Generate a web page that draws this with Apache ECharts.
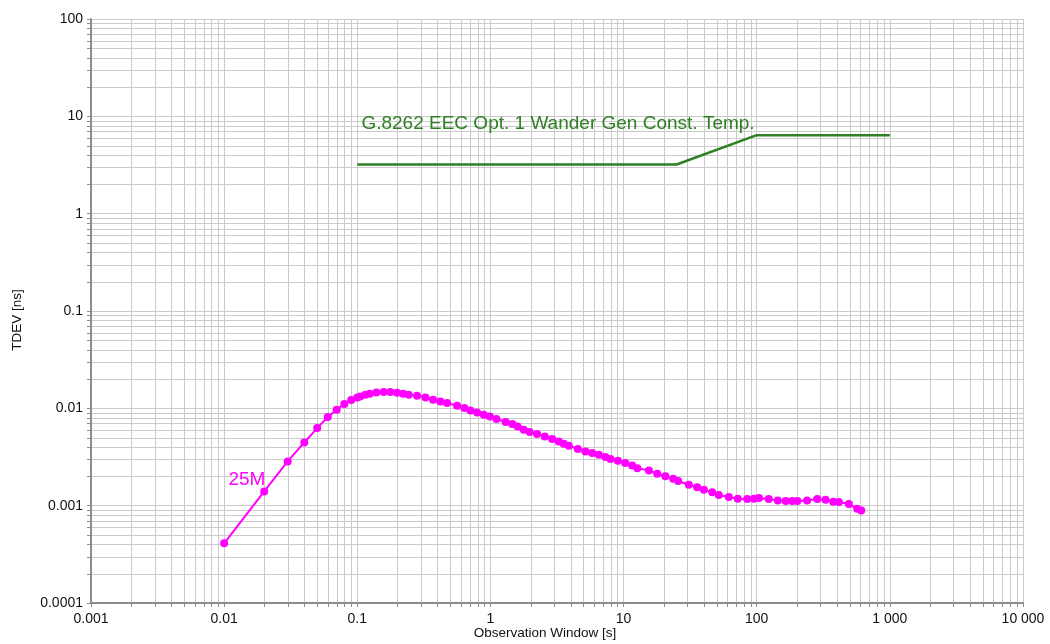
<!DOCTYPE html>
<html>
<head>
<meta charset="utf-8">
<title>TDEV</title>
<script src="https://cdn.jsdelivr.net/npm/echarts@6/dist/echarts.min.js"></script>
<style>
  html, body { margin: 0; padding: 0; background: #fff; }
  #chart { width: 1050px; height: 644px; }
</style>
</head>
<body>
<div id="chart"></div>
<script>
// observation window [s] and measured TDEV [ns] of the 25M trace
const tauValues = [
  0.01, 0.02, 0.03, 0.04, 0.05, 0.06, 0.07, 0.08, 0.09, 0.1,
  0.105, 0.115, 0.124, 0.139, 0.158, 0.177, 0.199, 0.221, 0.243, 0.281,
  0.325, 0.371, 0.421, 0.473, 0.562, 0.638, 0.708, 0.794, 0.891, 0.99,
  1.11, 1.30, 1.46, 1.60, 1.78, 1.97, 2.24, 2.56, 2.91, 3.26,
  3.55, 3.88, 4.53, 5.17, 5.81, 6.52, 7.31, 7.97, 9.06, 10.3,
  11.6, 12.7, 15.5, 17.9, 20.6, 23.6, 25.7, 30.9, 35.7, 40.1,
  46.3, 51.9, 61.7, 72.1, 84.8, 95.1, 104, 123, 144, 165,
  185, 202, 239, 285, 329, 376, 414, 492, 569, 610
]
const tdevValues = [
  0.00041, 0.0014, 0.00285, 0.00446, 0.00627, 0.00813, 0.00968, 0.0111, 0.0122, 0.0129,
  0.01325, 0.0138, 0.0141, 0.01456, 0.01472, 0.01472, 0.01446, 0.0141, 0.0138, 0.01348,
  0.01294, 0.01225, 0.01177, 0.01133, 0.01064, 0.01007, 0.00951, 0.00908, 0.0086, 0.00826,
  0.00776, 0.00723, 0.0069, 0.00652, 0.00603, 0.00571, 0.00544, 0.00514, 0.00483, 0.00457,
  0.00432, 0.00413, 0.00382, 0.00361, 0.00347, 0.00334, 0.00316, 0.00302, 0.00289, 0.00274,
  0.00259, 0.00243, 0.0023, 0.00213, 0.002, 0.00189, 0.00179, 0.00164, 0.00155, 0.00146,
  0.00137, 0.00129, 0.00123, 0.00118, 0.00117, 0.00118, 0.0012, 0.00117, 0.00113, 0.00112,
  0.00112, 0.00112, 0.00113, 0.00117, 0.00115, 0.0011, 0.00109, 0.00104, 0.00093, 0.00089
]

// G.8262 EEC option 1 wander generation mask (constant temperature)
const maskTau = [0.1, 25, 100, 1000]
const maskTdev = [3.2, 3.2, 6.4, 6.4]

const seriesName = '25M'
const maskName = 'G.8262 EEC Opt. 1 Wander Gen Const. Temp.'

const xMin = 0.001
const xMax = 10000
const yMin = 0.0001
const yMax = 100
const xDecades = [0.001, 0.01, 0.1, 1, 10, 100, 1000]
const yDecades = [0.0001, 0.001, 0.01, 0.1, 1, 10]

const gridColor = '#cbcbcb'
const axisColor = '#8c8c8c'
const maskColor = '#2f7f24'
const traceColor = '#ff00ff'
const font = 'Arial, "Liberation Sans", sans-serif'

function fmt(v) {
  const n = parseFloat(Number(v).toPrecision(6))
  if (n >= 1000) return String(n).replace(/\B(?=(\d{3})+(?!\d))/g, ' ')
  return String(n)
}

// minor grid positions at 2..9 of every decade
const minorX = []
const minorY = []
xDecades.forEach(d => {
  for (let k = 2; k <= 9; k++) minorX.push(+(d * k).toPrecision(6))
})
yDecades.forEach(d => {
  for (let k = 2; k <= 9; k++) minorY.push(+(d * k).toPrecision(6))
})

const crisp = v => Math.round(v) + 0.5

// vertical minor grid line + tick under the x axis
function renderMinorX(params, api) {
  const v = api.value(0)
  const top = api.coord([v, yMax])
  const bottom = api.coord([v, yMin])
  const x = crisp(top[0])
  return {
    type: 'group',
    children: [
      { type: 'line', shape: { x1: x, y1: top[1], x2: x, y2: bottom[1] }, style: { stroke: gridColor, lineWidth: 1 } },
      { type: 'line', shape: { x1: x, y1: bottom[1], x2: x, y2: bottom[1] + 4 }, style: { stroke: axisColor, lineWidth: 1 } }
    ]
  }
}

// horizontal minor grid line + tick left of the y axis
function renderMinorY(params, api) {
  const v = api.value(1)
  const left = api.coord([xMin, v])
  const right = api.coord([xMax, v])
  const y = crisp(left[1])
  return {
    type: 'group',
    children: [
      { type: 'line', shape: { x1: left[0], y1: y, x2: right[0], y2: y }, style: { stroke: gridColor, lineWidth: 1 } },
      { type: 'line', shape: { x1: left[0] - 4, y1: y, x2: left[0], y2: y }, style: { stroke: axisColor, lineWidth: 1 } }
    ]
  }
}

const chart = echarts.init(document.getElementById('chart'), null, { renderer: 'canvas' })

const axisCommon = {
  type: 'log',
  logBase: 10,
  interval: 1,
  nameLocation: 'middle',
  nameMoveOverlap: false,
  axisLine: { show: true, lineStyle: { color: axisColor, width: 2 } },
  axisTick: { show: true, length: 4, lineStyle: { color: axisColor, width: 1 } },
  splitLine: { show: true, lineStyle: { color: gridColor, width: 1 } },
  z: 2
}

const textLabel = (text, color) => ({
  show: true,
  formatter: text,
  position: 'inside',
  align: 'left',
  verticalAlign: 'middle',
  color,
  fontSize: 19,
  fontFamily: font
})

const option = {
  animation: false,
  backgroundColor: '#fff',
  grid: { left: 91, right: 27, top: 19, bottom: 41, containLabel: false, outerBoundsMode: 'none' },
  xAxis: Object.assign({}, axisCommon, {
    min: xMin,
    max: xMax,
    name: 'Observation Window [s]',
    nameGap: 23,
    nameTextStyle: { color: '#111', fontSize: 13.5, fontFamily: font, padding: [0, 24, 0, 0] },
    axisLabel: { color: '#111', fontSize: 14, fontFamily: font, formatter: fmt, margin: 9 }
  }),
  yAxis: Object.assign({}, axisCommon, {
    min: yMin,
    max: yMax,
    name: 'TDEV [ns]',
    nameGap: 67,
    nameTextStyle: { color: '#111', fontSize: 13.5, fontFamily: font, padding: [0, 18, 0, 0] },
    axisLabel: { color: '#111', fontSize: 14, fontFamily: font, formatter: fmt, margin: 8 }
  }),
  series: [
    {
      name: 'minorX',
      type: 'custom',
      silent: true,
      clip: false,
      z: 0,
      data: minorX.map(v => [v, 1]),
      encode: { x: 0, y: 1 },
      renderItem: renderMinorX
    },
    {
      name: 'minorY',
      type: 'custom',
      silent: true,
      clip: false,
      z: 0,
      data: minorY.map(v => [1, v]),
      encode: { x: 0, y: 1 },
      renderItem: renderMinorY
    },
    {
      name: maskName,
      type: 'line',
      data: maskTau.map((t, i) => [t, maskTdev[i]]),
      showSymbol: false,
      lineStyle: { color: maskColor, width: 2.5 },
      itemStyle: { color: maskColor },
      z: 3,
      markPoint: {
        symbol: 'circle',
        symbolSize: 1,
        itemStyle: { color: 'transparent' },
        data: [{ coord: [0.1074, 8.3], label: textLabel(maskName, maskColor) }]
      }
    },
    {
      name: seriesName,
      type: 'line',
      data: tauValues.map((t, i) => [t, tdevValues[i]]),
      symbol: 'circle',
      symbolSize: 8,
      showSymbol: true,
      lineStyle: { color: traceColor, width: 2 },
      itemStyle: { color: traceColor },
      z: 4,
      markPoint: {
        symbol: 'circle',
        symbolSize: 1,
        itemStyle: { color: 'transparent' },
        data: [{ coord: [0.01076, 0.00184], label: textLabel(seriesName, traceColor) }]
      }
    }
  ]
}

chart.setOption(option)
</script>
</body>
</html>
